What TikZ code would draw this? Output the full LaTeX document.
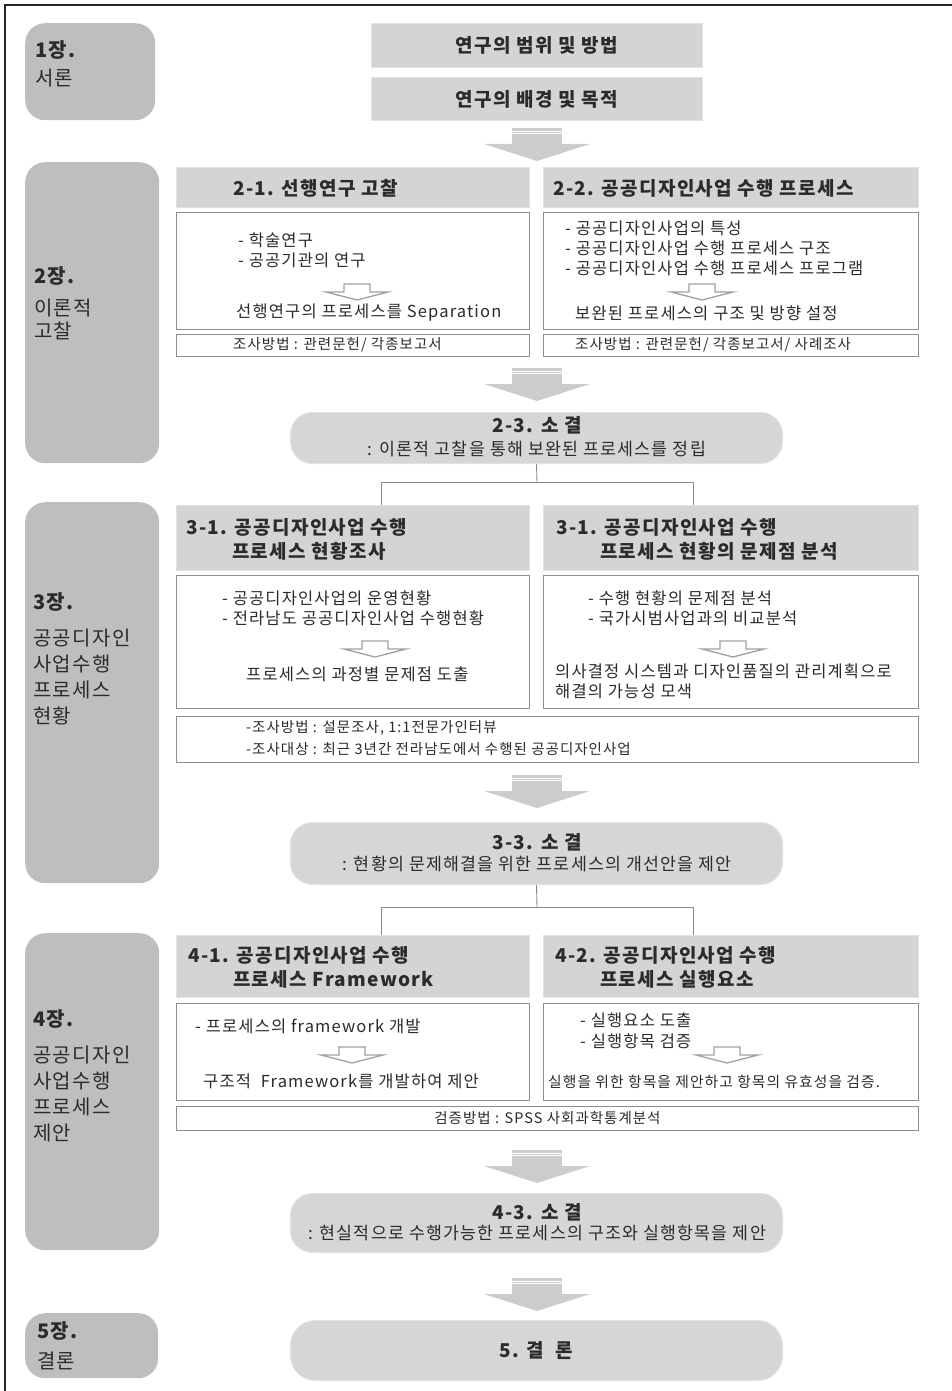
\documentclass[tikz,border=0pt]{standalone}
\usepackage{fontspec}
\setmainfont{Noto Sans CJK KR}[LetterSpace=7]
\definecolor{chapgray}{HTML}{BDBEC0}
\definecolor{hdrgray}{HTML}{D3D4D6}
\definecolor{hdredge}{HTML}{E2E2E3}
\definecolor{sumgray}{HTML}{D5D6D8}
\definecolor{arrgray}{HTML}{CBCCCE}
\definecolor{boxline}{HTML}{8E8E8E}
\definecolor{connline}{HTML}{8A8A8A}
\definecolor{hollowline}{HTML}{A0A0A0}
\definecolor{txtcol}{HTML}{2B2B2B}
\newcommand\fchap{\fontsize{20}{24}\selectfont}
\newcommand\fhdr{\fontsize{19}{23}\selectfont\bfseries}
\newcommand\fcont{\fontsize{16.5}{20}\selectfont}
\newcommand\fsmall{\fontsize{14.5}{17}\selectfont}
\newcommand\fsub{\fontsize{17.3}{21}\selectfont}
\tikzset{
  chap/.style={fill=chapgray, draw=none, rounded corners=20pt, anchor=north west, inner sep=0},
  hdr/.style={fill=hdrgray, draw=hdredge, line width=1pt, anchor=north west, inner sep=0},
  cbox/.style={fill=white, draw=boxline, line width=0.9pt, anchor=north west, inner sep=0},
  sumbox/.style={fill=sumgray, draw=hdredge, line width=1pt, rounded corners=22pt, anchor=north west, inner sep=0},
  lt/.style={anchor=west, inner sep=0, text=txtcol},
  ct/.style={anchor=center, inner sep=0, text=txtcol},
  conn/.style={draw=connline, line width=0.9pt},
  bigarr/.pic={
    \fill[arrgray] (-25,0) rectangle (25,17);
    \fill[arrgray] (-53,16) -- (53,16) -- (0,33) -- cycle;
    \draw[white, line width=0.7pt] (-25,3) -- (25,3);
    \draw[white, line width=0.7pt] (-25,5.5) -- (25,5.5);
  },
  hollowarr/.pic={
    \draw[hollowline, fill=white, line width=1.3pt, line join=miter]
      (-13,0) -- (13,0) -- (13,8) -- (31,8) -- (0,16) -- (-31,8) -- (-13,8) -- cycle;
  }
}
\begin{document}
\begin{tikzpicture}[x=1pt, y=-1pt]
\useasboundingbox (0,0) rectangle (952,1391);
% outer frame
\draw[line width=1.4pt, draw=black!85] (5,1391) -- (5,5) -- (952,5);

% chapter boxes
\node[chap, minimum width=130pt, minimum height=97pt] (c1) at (25,23) {};
\node[chap, minimum width=134pt, minimum height=301pt] (c2) at (25,162) {};
\node[chap, minimum width=134pt, minimum height=381pt] (c3) at (25,502) {};
\node[chap, minimum width=134pt, minimum height=317pt] (c4) at (25,933) {};
\node[chap, minimum width=133pt, minimum height=65pt] (c5) at (25,1313) {};

\node[lt, font=\fchap\bfseries] (c1a) at (35,50) {1장.};
\node[lt, font=\fchap] (c1b) at (35,78) {서론};
\node[lt, font=\fchap\bfseries] (c2a) at (34,276) {2장.};
\node[lt, font=\fchap] (c2b) at (34,308) {이론적};
\node[lt, font=\fchap] (c2c) at (34,331) {고찰};
\node[lt, font=\fchap\bfseries] (c3a) at (33,602) {3장.};
\node[lt, font=\fchap] (c3b) at (33,638) {공공디자인};
\node[lt, font=\fchap] (c3c) at (33,664) {사업수행};
\node[lt, font=\fchap] (c3d) at (33,690) {프로세스};
\node[lt, font=\fchap] (c3e) at (33,716) {현황};
\node[lt, font=\fchap\bfseries] (c4a) at (33,1019) {4장.};
\node[lt, font=\fchap] (c4b) at (33,1055) {공공디자인};
\node[lt, font=\fchap] (c4c) at (33,1081) {사업수행};
\node[lt, font=\fchap] (c4d) at (33,1107) {프로세스};
\node[lt, font=\fchap] (c4e) at (33,1133) {제안};
\node[lt, font=\fchap\bfseries] (c5a) at (37,1331) {5장.};
\node[lt, font=\fchap] (c5b) at (37,1361) {결론};

% chapter 1
\node[hdr, minimum width=331pt, minimum height=44pt] (t1) at (371,23) {};
\node[ct, font=\fhdr] (t1t) at (t1.center) {연구의 범위 및 방법};
\node[hdr, minimum width=331pt, minimum height=43pt] (t2) at (371,77) {};
\node[ct, font=\fhdr] (t2t) at (t2.center) {연구의 배경 및 목적};
\pic at (537,128) {bigarr};

% chapter 2
\node[hdr, minimum width=353pt, minimum height=40pt] (h21) at (176,167) {};
\node[hdr, minimum width=375pt, minimum height=40pt] (h22) at (543,167) {};
\node[lt, font=\fhdr] (h21t) at (233,188) {2-1. 선행연구 고찰};
\node[lt, font=\fhdr] (h22t) at (553,188) {2-2. 공공디자인사업 수행 프로세스};
\node[cbox, minimum width=353pt, minimum height=117pt] (b21) at (176,212) {};
\node[cbox, minimum width=375pt, minimum height=117pt] (b22) at (543,212) {};
\node[lt, font=\fcont] (b21a) at (238,240) {- 학술연구};
\node[lt, font=\fcont] (b21b) at (238,260) {- 공공기관의 연구};
\pic at (357,284) {hollowarr};
\node[lt, font=\fcont] (b21c) at (236,313) {선행연구의 프로세스를 Separation};
\node[lt, font=\fcont] (b22a) at (565,228) {- 공공디자인사업의 특성};
\node[lt, font=\fcont] (b22b) at (565,248) {- 공공디자인사업 수행 프로세스 구조};
\node[lt, font=\fcont] (b22c) at (565,268) {- 공공디자인사업 수행 프로세스 프로그램};
\pic at (702,284) {hollowarr};
\node[lt, font=\fcont] (b22d) at (575,313) {보완된 프로세스의 구조 및 방향 설정};
\node[cbox, minimum width=353pt, minimum height=22pt] (f21) at (176,334) {};
\node[cbox, minimum width=375pt, minimum height=22pt] (f22) at (543,334) {};
\node[lt, font=\fsmall] (f21t) at (233,345) {조사방법 : 관련문헌/ 각종보고서};
\node[lt, font=\fsmall] (f22t) at (575,345) {조사방법 : 관련문헌/ 각종보고서/ 사례조사};
\pic at (537,368) {bigarr};
\node[sumbox, minimum width=492pt, minimum height=51pt] (s23) at (290,412) {};
\node[ct, font=\fhdr] (s23a) at (537,425) {2-3. 소 결};
\node[ct, font=\fsub] (s23b) at (537,449) {: 이론적 고찰을 통해 보완된 프로세스를 정립};

% chapter 3
\node[hdr, minimum width=353pt, minimum height=65pt] (h31) at (176,505) {};
\node[hdr, minimum width=375pt, minimum height=65pt] (h32) at (543,505) {};
\node[lt, font=\fhdr] (h31a) at (186,527) {3-1. 공공디자인사업 수행};
\node[lt, font=\fhdr] (h31b) at (232,551) {프로세스 현황조사};
\node[lt, font=\fhdr] (h32a) at (556,527) {3-1. 공공디자인사업 수행};
\node[lt, font=\fhdr] (h32b) at (600,551) {프로세스 현황의 문제점 분석};
\coordinate (j1) at (537,482);
\coordinate (j1L) at (381,482);
\coordinate (j1R) at (693,482);
\draw[conn] (s23.south) -- (j1);
\draw[conn] (j1L) -- (j1R);
\draw[conn] (j1L) -- (j1L |- h31.north);
\draw[conn] (j1R) -- (j1R |- h32.north);
\node[cbox, minimum width=353pt, minimum height=133pt] (b31) at (176,575) {};
\node[cbox, minimum width=375pt, minimum height=133pt] (b32) at (543,575) {};
\node[lt, font=\fcont] (b31a) at (222,598) {- 공공디자인사업의 운영현황};
\node[lt, font=\fcont] (b31b) at (222,618) {- 전라남도 공공디자인사업 수행현황};
\pic at (375,641) {hollowarr};
\node[lt, font=\fcont] (b31c) at (246,674) {프로세스의 과정별 문제점 도출};
\node[lt, font=\fcont] (b32a) at (588,598) {- 수행 현황의 문제점 분석};
\node[lt, font=\fcont] (b32b) at (588,618) {- 국가시범사업과의 비교분석};
\pic at (733,641) {hollowarr};
\node[lt, font=\fcont] (b32c) at (555,671) {의사결정 시스템과 디자인품질의 관리계획으로};
\node[lt, font=\fcont] (b32d) at (555,691) {해결의 가능성 모색};
\node[cbox, minimum width=742pt, minimum height=46pt] (f3) at (176,716) {};
\node[lt, font=\fsmall] (f3a) at (246,728) {-조사방법 : 설문조사, 1:1전문가인터뷰};
\node[lt, font=\fsmall] (f3b) at (246,749) {-조사대상 : 최근 3년간 전라남도에서 수행된 공공디자인사업};
\pic at (537,775) {bigarr};
\node[sumbox, minimum width=492pt, minimum height=62pt] (s33) at (290,822) {};
\node[ct, font=\fhdr] (s33a) at (537,842) {3-3. 소 결};
\node[ct, font=\fsub] (s33b) at (537,864) {: 현황의 문제해결을 위한 프로세스의 개선안을 제안};

% chapter 4
\node[hdr, minimum width=353pt, minimum height=62pt] (h41) at (176,935) {};
\node[hdr, minimum width=375pt, minimum height=62pt] (h42) at (543,935) {};
\node[lt, font=\fhdr] (h41a) at (188,955) {4-1. 공공디자인사업 수행};
\node[lt, font=\fhdr] (h41b) at (233,979) {프로세스 Framework};
\node[lt, font=\fhdr] (h42a) at (555,955) {4-2. 공공디자인사업 수행};
\node[lt, font=\fhdr] (h42b) at (600,979) {프로세스 실행요소};
\coordinate (j2) at (537,907);
\coordinate (j2L) at (381,907);
\coordinate (j2R) at (693,907);
\draw[conn] (s33.south) -- (j2);
\draw[conn] (j2L) -- (j2R);
\draw[conn] (j2L) -- (j2L |- h41.north);
\draw[conn] (j2R) -- (j2R |- h42.north);
\node[cbox, minimum width=353pt, minimum height=97pt] (b41) at (176,1003) {};
\node[cbox, minimum width=375pt, minimum height=97pt] (b42) at (543,1003) {};
\node[lt, font=\fcont] (b41a) at (195,1026) {- 프로세스의 framework 개발};
\pic at (352,1047) {hollowarr};
\node[lt, font=\fcont] (b41b) at (203,1081) {구조적 \ Framework를 개발하여 제안};
\node[lt, font=\fcont] (b42a) at (580,1020) {- 실행요소 도출};
\node[lt, font=\fcont] (b42b) at (580,1041) {- 실행항목 검증};
\pic at (727,1047) {hollowarr};
\node[lt, font=\fontsize{14.8}{18}\selectfont] (b42c) at (548,1082) {실행을 위한 항목을 제안하고 항목의 유효성을 검증.};
\node[cbox, minimum width=742pt, minimum height=24pt] (f4) at (176,1106) {};
\node[ct, font=\fsmall] (f4t) at (f4.center) {검증방법 : SPSS 사회과학통계분석};
\pic at (537,1150) {bigarr};
\node[sumbox, minimum width=492pt, minimum height=59pt] (s43) at (290,1193) {};
\node[ct, font=\fhdr] (s43a) at (537,1212) {4-3. 소 결};
\node[ct, font=\fsub] (s43b) at (537,1233) {: 현실적으로 수행가능한 프로세스의 구조와 실행항목을 제안};
\pic at (537,1278) {bigarr};

% chapter 5
\node[sumbox, rounded corners=25pt, minimum width=492pt, minimum height=60pt] (s5) at (290,1320) {};
\node[ct, font=\fhdr] (s5t) at (s5.center) {5. 결 \ 론};
\end{tikzpicture}
\end{document}
